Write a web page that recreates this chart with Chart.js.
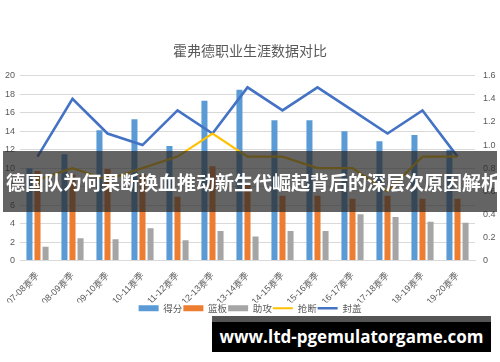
<!DOCTYPE html>
<html>
<head>
<meta charset="utf-8">
<script src="https://cdn.jsdelivr.net/npm/chart.js@4"></script>
<style>
    body { margin: 0; background: #fff; font-family: "Noto Sans CJK SC", sans-serif; }
    .wrap { position: relative; width: 500px; height: 362px; }
    .banner {
        position: absolute; left: 3px; top: 151px; width: 494px; height: 61px;
        background: rgba(40, 40, 40, 0.72); color: #fff;
        font-weight: bold; font-size: 19px; line-height: 61px;
        white-space: nowrap; overflow: hidden; padding-left: 3px; box-sizing: border-box;
    }
    .site {
        position: absolute; left: 212px; top: 316px; width: 279px; height: 36px;
        background: #000; border-top: 6px solid #555; box-sizing: border-box;
        color: #fff; font-family: "Open Sans", sans-serif; font-weight: bold;
        font-size: 17px; line-height: 29px; text-align: center; white-space: nowrap;
    }
</style>
</head>
<body>
<div class="wrap">
    <canvas id="careerChart" width="500" height="362"></canvas>
    <div class="banner">德国队为何果断换血推动新生代崛起背后的深层次原因解析</div>
    <div class="site">www.ltd-pgemulatorgame.com</div>
</div>

<script>
// seasons and per-game numbers
const seasons = ['07-08赛季', '08-09赛季', '09-10赛季', '10-11赛季', '11-12赛季', '12-13赛季', '13-14赛季',
    '14-15赛季', '15-16赛季', '16-17赛季', '17-18赛季', '18-19赛季', '19-20赛季'];
const points = [10.0, 11.5, 14.1, 15.3, 12.4, 17.3, 18.5, 15.2, 15.2, 14.0, 12.9, 13.6, 12.0];
const rebounds = [9.7, 9.3, 9.9, 9.3, 6.9, 10.2, 8.4, 7.0, 7.0, 6.7, 7.0, 6.7, 6.7];
const assists = [1.5, 2.4, 2.3, 3.5, 2.2, 3.2, 2.6, 3.2, 3.2, 5.0, 4.7, 4.2, 4.1];
const steals = [0.7, 0.8, 0.7, 0.8, 0.9, 1.1, 0.9, 0.9, 0.8, 0.8, 0.6, 0.9, 0.9];
const blocks = [0.9, 1.4, 1.1, 1.0, 1.3, 1.1, 1.5, 1.3, 1.5, 1.3, 1.1, 1.3, 0.9];

const leftTicks = { min: 0, max: 20, step: 2 };
const rightTicks = { min: 0, max: 1.6, step: 0.2 };

const textColor = '#595959';

function barSet(label, data, color) {
    return {
        type: 'bar', label: label, data: data, yAxisID: 'y',
        backgroundColor: color, borderWidth: 0, order: 1,
        categoryPercentage: 0.69, barPercentage: 0.75
    };
}

function lineSet(label, data, color, width) {
    return {
        type: 'line', label: label, data: data, yAxisID: 'y1',
        borderColor: color, backgroundColor: color, borderWidth: width,
        pointRadius: 0, tension: 0, order: 0
    };
}

new Chart(document.getElementById('careerChart'), {
    data: {
        labels: seasons,
        datasets: [
            barSet('得分', points, '#5B9BD5'),
            barSet('篮板', rebounds, '#ED7D31'),
            barSet('助攻', assists, '#A5A5A5'),
            lineSet('抢断', steals, '#FFC000', 2.2),
            lineSet('封盖', blocks, '#4472C4', 2.6)
        ]
    },
    options: {
        responsive: false,
        animation: false,
        layout: { padding: { left: 0, right: 0, top: 0, bottom: 39 } },
        plugins: {
            tooltip: { enabled: false },
            title: {
                display: true,
                text: '霍弗德职业生涯数据对比',
                color: textColor,
                font: { size: 14, weight: 'normal', family: '"Noto Sans CJK SC"' },
                padding: { top: 42, bottom: 17 }
            },
            legend: {
                position: 'bottom',
                labels: {
                    color: textColor,
                    font: { size: 9.5, family: '"Noto Sans CJK SC"' },
                    usePointStyle: true,
                    pointStyleWidth: 20,
                    boxHeight: 6,
                    padding: 1,
                    sort: (a, b) => a.datasetIndex - b.datasetIndex,
                    generateLabels(chart) {
                        const items = Chart.defaults.plugins.legend.labels.generateLabels(chart);
                        items.forEach(it => {
                            const ds = chart.data.datasets[it.datasetIndex];
                            it.pointStyle = ds.type === 'line' ? 'line' : 'rect';
                            if (ds.type !== 'line') it.lineWidth = 0;
                        });
                        return items;
                    }
                }
            }
        },
        scales: {
            x: {
                grid: { display: false },
                border: { color: '#D9D9D9' },
                ticks: {
                    color: textColor, font: { size: 9 },
                    minRotation: 45, maxRotation: 45, padding: 2
                },
                afterFit(scale) { scale.height = 42; }
            },
            y: {
                position: 'left',
                min: leftTicks.min, max: leftTicks.max,
                ticks: { stepSize: leftTicks.step, color: textColor, font: { size: 9 }, padding: 5 },
                grid: { color: '#D9D9D9', drawTicks: false },
                border: { display: false },
                afterFit(scale) { scale.width = 20; }
            },
            y1: {
                position: 'right',
                min: rightTicks.min, max: rightTicks.max,
                ticks: { stepSize: rightTicks.step, color: textColor, font: { size: 9 }, padding: 8 },
                grid: { display: false, drawTicks: false },
                border: { display: false },
                afterFit(scale) { scale.width = 25; }
            }
        }
    }
});
</script>
</body>
</html>
